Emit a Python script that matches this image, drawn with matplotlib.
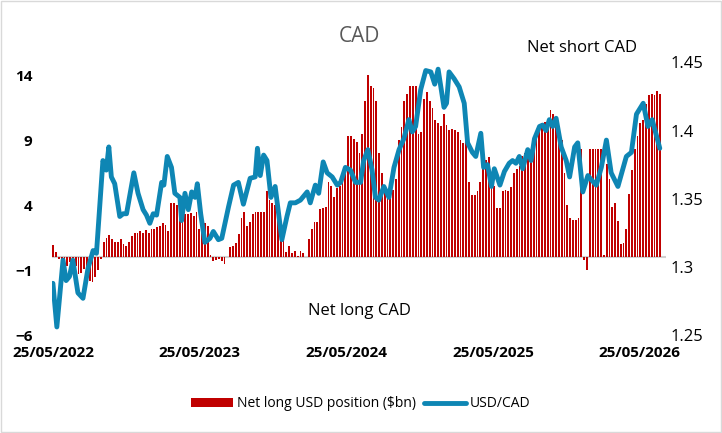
import matplotlib.pyplot as plt
import matplotlib.dates as mdates
import pandas as pd
import numpy as np

# weekly net long USD positioning vs CAD ($bn)
net_usd = [0.95, 0.4, -0.1, -0.3, -0.5, -0.7, -0.4, -0.9, -0.7, -1.3, -1.2, -0.9, -1.4, -1.8, -1.9, -1.5,
           -1.0, -0.1, 1.2, 1.5, 1.7, 1.4, 1.2, 1.2, 1.4, 1.0, 0.9, 1.2, 1.6, 1.9, 1.9, 2.0, 1.9, 2.1, 1.9,
           2.2, 2.2, 2.3, 2.4, 2.6, 2.5, 2.0, 4.2, 4.2, 4.0, 3.2, 3.4, 3.3, 3.3, 3.4, 3.2, 3.5, 2.2, 2.4,
           2.6, 2.4, 0.2, -0.3, -0.2, -0.1, -0.3, -0.5, 0.0, 0.8, 0.9, 1.1, 1.8, 3.0, 3.5, 2.4, 2.7, 3.3,
           3.5, 3.5, 3.5, 3.5, 5.1, 4.4, 4.2, 4.0, 3.0, 2.2, 1.9, 0.4, 0.9, 0.3, 0.5, 0.1, 0.5, 0.3, 0.0,
           1.4, 2.2, 2.7, 2.7, 3.7, 3.8, 3.9, 5.8, 5.5, 4.6, 5.3, 5.5, 6.2, 6.5, 9.3, 9.3, 9.1, 8.9, 8.0,
           9.5, 12.0, 14.0, 13.2, 13.0, 12.0, 8.0, 6.5, 5.5, 5.0, 4.8, 5.2, 6.0, 9.0, 10.0, 12.0, 12.6,
           13.2, 13.2, 13.2, 9.5, 9.6, 12.2, 12.7, 12.0, 11.5, 10.6, 10.3, 10.1, 11.0, 10.2, 9.8, 9.9, 9.8,
           9.6, 9.0, 8.8, 9.0, 5.8, 4.8, 4.8, 5.1, 5.8, 6.9, 7.5, 7.7, 6.0, 5.5, 3.8, 3.8, 5.1, 5.2, 5.1,
           5.4, 6.5, 6.8, 7.0, 7.8, 8.0, 7.7, 8.2, 8.8, 9.5, 10.0, 10.3, 10.4, 10.6, 11.3, 11.0, 10.6, 9.6,
           9.0, 6.5, 4.0, 3.0, 2.9, 2.9, 3.0, 8.3, -0.2, -1.0, 8.3, 8.3, 8.3, 8.3, 8.3, 0.2, 7.2, 6.0, 3.9,
           4.2, 2.8, 1.0, 1.1, 2.2, 4.9, 6.7, 8.3, 9.3, 10.3, 10.6, 11.8, 12.5, 12.6, 12.5, 12.8, 12.6]

# USD/CAD spot, sampled at week offsets from 25/05/2022
fx_week = [-0.1, 1.3, 3.5, 4.6, 5.8, 7.0, 8.8, 10.6, 12.4, 14.2, 15.4, 17.7, 18.9, 19.8, 20.7, 21.9, 23.7,
           24.9, 26.1, 28.7, 30.2, 32.0, 33.2, 34.4, 35.6, 36.8, 38.6, 39.4, 40.6, 42.1, 43.3, 45.1, 45.7,
           46.9, 48.1, 49.3, 50.5, 51.3, 52.5, 54.0, 55.8, 57.0, 58.8, 60.0, 62.4, 64.2, 65.9, 67.7, 70.1,
           71.9, 72.7, 73.7, 74.9, 76.1, 77.5, 79.0, 81.4, 83.2, 84.4, 86.2, 88.0, 90.4, 91.5, 93.3, 94.5,
           96.1, 97.5, 99.3, 101.1, 102.3, 104.0, 105.8, 107.6, 109.4, 110.5, 112.0, 113.5, 114.7, 115.9,
           117.7, 119.5, 121.3, 123.1, 124.8, 126.6, 127.8, 129.0, 130.8, 132.6, 134.4, 135.8, 137.0, 139.1,
           140.0, 140.9, 142.7, 144.5, 146.3, 147.5, 149.2, 150.4, 152.2, 153.2, 154.6, 156.0, 157.0, 159.0,
           160.6, 162.3, 163.5, 164.7, 165.9, 167.1, 168.9, 170.1, 171.3, 173.1, 174.2, 175.4, 176.6, 177.8,
           179.0, 180.8, 182.6, 183.8, 185.6, 186.7, 188.5, 190.3, 191.5, 193.3, 195.1, 196.9, 198.6, 201.0,
           204.0, 205.8, 207.6, 210.0, 211.7, 213.2, 215.9]
usdcad = [1.288, 1.256, 1.305, 1.290, 1.293, 1.305, 1.281, 1.277, 1.299, 1.312, 1.310, 1.378, 1.371, 1.388,
          1.366, 1.361, 1.337, 1.339, 1.339, 1.369, 1.354, 1.342, 1.338, 1.332, 1.339, 1.338, 1.362, 1.360,
          1.381, 1.373, 1.354, 1.351, 1.334, 1.354, 1.342, 1.355, 1.351, 1.361, 1.339, 1.318, 1.321, 1.326,
          1.320, 1.321, 1.344, 1.360, 1.362, 1.346, 1.365, 1.366, 1.387, 1.367, 1.382, 1.378, 1.351, 1.359,
          1.320, 1.337, 1.347, 1.347, 1.349, 1.355, 1.347, 1.360, 1.354, 1.377, 1.369, 1.366, 1.360, 1.362,
          1.373, 1.371, 1.362, 1.362, 1.378, 1.386, 1.371, 1.351, 1.349, 1.359, 1.351, 1.373, 1.386, 1.394,
          1.408, 1.399, 1.403, 1.430, 1.444, 1.443, 1.434, 1.445, 1.417, 1.420, 1.443, 1.438, 1.432, 1.420,
          1.391, 1.384, 1.381, 1.398, 1.373, 1.375, 1.359, 1.372, 1.360, 1.370, 1.376, 1.378, 1.376, 1.381,
          1.372, 1.386, 1.378, 1.394, 1.403, 1.404, 1.400, 1.408, 1.403, 1.409, 1.388, 1.378, 1.366, 1.388,
          1.391, 1.355, 1.367, 1.364, 1.360, 1.373, 1.393, 1.369, 1.359, 1.381, 1.384, 1.412, 1.420, 1.403,
          1.408, 1.387]

start = pd.Timestamp('2022-05-25')
bar_dates = pd.date_range(start, periods=len(net_usd), freq='7D')
fx_dates = [start + pd.Timedelta(days=w * 7) for w in fx_week]
tick_dates = [pd.Timestamp(f'{y}-05-25') for y in range(2022, 2027)]

bar_col = '#C00000'
line_col = '#0E86B4'
plt.rcParams['font.family'] = ['Open Sans', 'DejaVu Sans']

fig = plt.figure(figsize=(7.22, 4.33), dpi=100)
ax = fig.add_axes([0.072, 0.226, 0.85, 0.63])
ax2 = ax.twinx()

ax.bar(bar_dates, net_usd, width=4.5, color=bar_col, label='Net long USD position ($bn)', zorder=2)
ax.axhline(0, color='#D0D0D0', lw=1.5, zorder=1)
ax2.plot(fx_dates, usdcad, color=line_col, lw=3.5, label='USD/CAD', solid_capstyle='round')

ax.set_ylim(-6, 15)
ax.set_yticks([-6, -1, 4, 9, 14])
ax2.set_ylim(1.25, 1.45)
ax2.set_yticks([1.25, 1.3, 1.35, 1.4, 1.45])
ax2.set_yticklabels(['1.25', '1.3', '1.35', '1.4', '1.45'])
ax.set_xlim(start - pd.Timedelta(days=3), start + pd.Timedelta(days=7 * 218))
ax.set_xticks(tick_dates)
ax.xaxis.set_major_formatter(mdates.DateFormatter('%d/%m/%Y'))

for a in (ax, ax2):
    for s in a.spines.values():
        s.set_visible(False)
    a.tick_params(length=0, labelsize=11)
for lab in ax.get_xticklabels() + ax.get_yticklabels():
    lab.set_fontweight('bold')
ax2.tick_params(labelsize=12)
ax.tick_params(axis='x', pad=8)
ax.tick_params(axis='y', pad=14)

fig.text(0.498, 0.915, 'CAD', ha='center', va='center', fontsize=15, color='#595959')
fig.text(0.806, 0.888, 'Net short CAD', ha='center', va='center', fontsize=12)
fig.text(0.498, 0.282, 'Net long CAD', ha='center', va='center', fontsize=12)

h1, l1 = ax.get_legend_handles_labels()
h2, l2 = ax2.get_legend_handles_labels()
fig.legend(h1 + h2, l1 + l2, loc='center', bbox_to_anchor=(0.5, 0.067), ncol=2, frameon=False,
           fontsize=10, handlelength=3, columnspacing=0.6, handletextpad=0.3)
fig.patches.append(plt.Rectangle((0.001, 0.002), 0.997, 0.996, transform=fig.transFigure,
                                 fill=False, edgecolor='#D9D9D9', lw=1))

fig.savefig('out.png', dpi=100)
